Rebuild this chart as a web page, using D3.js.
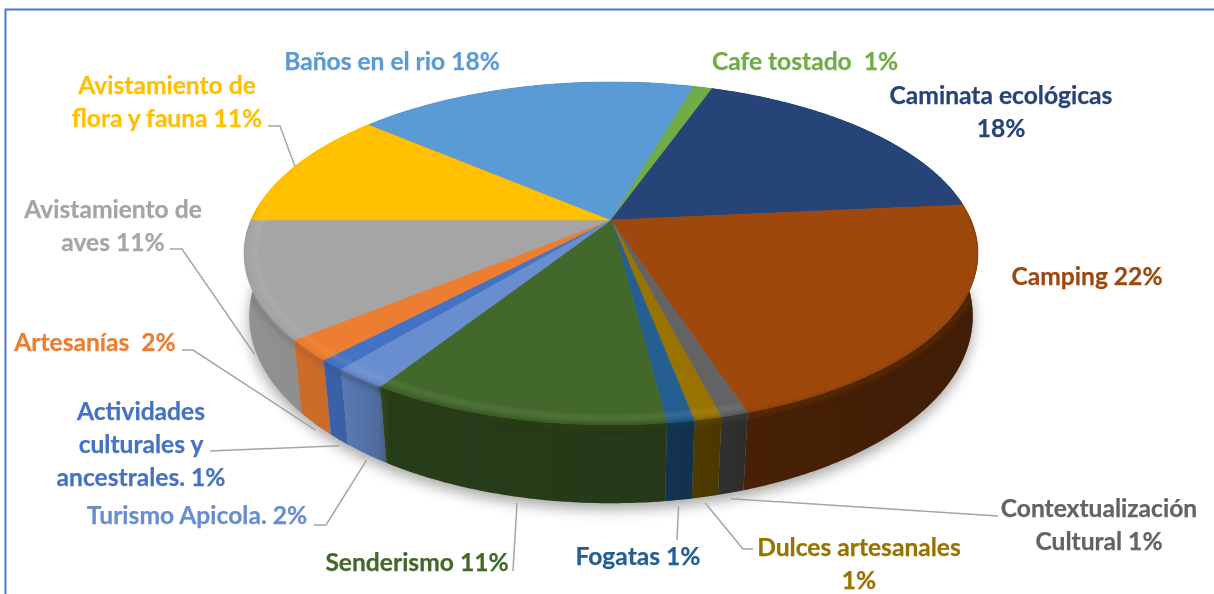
<!DOCTYPE html>
<html>
<head>
<meta charset="utf-8">
<style>
    body { margin: 0; background: #fff; }
    svg { display: block; }
    text { font-family: Lato, "Open Sans", sans-serif; font-weight: 700; font-size: 24.6px; text-anchor: middle; white-space: pre; stroke-width: 0.25px; }
</style>
</head>
<body>
<svg id="container" width="1214" height="594"></svg>
<script src="https://cdn.jsdelivr.net/npm/d3@7"></script>
<script>
// slices, clockwise, starting at Actividades
const categories = ["Actividades", "Artesanias", "Aves", "Flora", "Banos", "Cafe", "Caminata",
    "Camping", "Contextualizacion", "Dulces", "Fogatas", "Senderismo", "Turismo"]
const values = [1, 2, 11, 11.3, 18.1, 1, 18.1, 21.5, 1, 1, 1, 11, 2]
const labels = [
    ["Actividades", "culturales y", "ancestrales. 1%"],
    ["Artesanías  2%"],
    ["Avistamiento de", "aves 11%"],
    ["Avistamiento de", "flora y fauna 11%"],
    ["Baños en el rio 18%"],
    ["Cafe tostado  1%"],
    ["Caminata ecológicas", "18%"],
    ["Camping 22%"],
    ["Contextualización", "Cultural 1%"],
    ["Dulces artesanales", "1%"],
    ["Fogatas 1%"],
    ["Senderismo 11%"],
    ["Turismo Apicola. 2%"]
]
const colors = ["#4472C4", "#ED7D31", "#A5A5A5", "#FFC000", "#5B9BD5", "#70AD47", "#264478",
    "#9E480E", "#636363", "#997300", "#255E91", "#43682B", "#698ED0"]

// label placement: centre x, first baseline
const labelPos = [[141, 420], [95, 351], [113, 218], [167, 94], [392, 70], [805, 70], [1001, 104],
    [1087, 285], [1099, 517], [859, 556], [638, 565], [417, 571], [197, 524]]
// leader lines from the rim, through these points (null = no leader)
const leaders = [
    [[210, 451]], [[193, 350], [182, 350]], [[182, 249], [170, 249]], [[280, 126], [268, 126]],
    null, null, null, null,
    [[998, 516]], [[743, 549], [753, 549]], [[677, 540]], [[513, 571]], [[326, 525], [314, 525]]
]

let svg = d3.select("#container")
let defs = svg.append("defs")

// perspective view of the two faces of the disc
let k = 0.178
let topFace = { cx: 611, cy: 220, rx: 360, ry: 165, k: 0.195 }
let bottomFace = { cx: 611, cy: 283, rx: 356, ry: 181, k: 0.178 }

function project(face, a, r = 1) {
    let u = r * Math.sin(a)
    let v = -r * Math.cos(a)
    let w = 1 - face.k * v
    return [face.cx + face.rx * u / w, face.cy + face.ry * v / w]
}

function rim(face, a0, a1, r = 1) {
    let n = Math.max(2, Math.ceil(Math.abs(a1 - a0) / 0.01))
    return d3.range(n + 1).map(i => project(face, a0 + (a1 - a0) * i / n, r))
}

let line = d3.line()
let pie = d3.pie()
    .sort(null)
    .value(d => d)
    .startAngle(219.6 * Math.PI / 180)
    .endAngle((219.6 + 360) * Math.PI / 180)

let slices = pie(values).map((d, i) => ({ ...d, i }))

// filters and gradient
defs.append("filter").attr("id", "shadow")
    .attr("x", "-10%").attr("y", "-10%").attr("width", "120%").attr("height", "120%")
    .append("feGaussianBlur").attr("stdDeviation", 7)
defs.append("filter").attr("id", "soft")
    .attr("x", "-10%").attr("y", "-10%").attr("width", "120%").attr("height", "120%")
    .append("feGaussianBlur").attr("stdDeviation", 2)

let shadeStops = [[245, 0.12], [345, 0.15], [378, 0.24], [390, 0.42], [660, 0.45], [750, 0.55], [978, 0.6]]
let offset = d3.scaleLinear().domain([245, 978]).range([0, 1])
let sideShade = defs.append("linearGradient").attr("id", "sideShade")
    .attr("gradientUnits", "userSpaceOnUse")
    .attr("x1", 245).attr("x2", 978).attr("y1", 0).attr("y2", 0)
sideShade.selectAll("stop").data(shadeStops).enter().append("stop")
    .attr("offset", d => offset(d[0]))
    .attr("stop-color", "#000")
    .attr("stop-opacity", d => d[1])

function sidePath(d) {
    return line(rim(topFace, d.startAngle, d.endAngle)
        .concat(rim(bottomFace, d.endAngle, d.startAngle))) + "Z"
}

// everything the bevel may touch
let clip = defs.append("clipPath").attr("id", "disc")
clip.append("path").attr("d", line(rim(topFace, 0, 2 * Math.PI)) + "Z")
slices.forEach(d => clip.append("path").attr("d", sidePath(d)))

// frame
svg.append("path")
    .attr("d", line([[5.5, 594], [5.5, 9.5], [1214, 9.5]]))
    .attr("fill", "none")
    .attr("stroke", "#4a78cc")
    .attr("stroke-width", 2)

// soft shadow under the disc
svg.append("path")
    .attr("d", line(rim(bottomFace, 0, 2 * Math.PI)))
    .attr("transform", "translate(0,6)")
    .attr("fill", "#000")
    .attr("opacity", 0.35)
    .attr("filter", "url(#shadow)")

// side wall, back slices first
let order = slices.slice().sort((a, b) =>
    -Math.cos((a.startAngle + a.endAngle) / 2) - -Math.cos((b.startAngle + b.endAngle) / 2))
let side = svg.append("g").selectAll("g").data(order).enter().append("g")
side.append("path").attr("d", sidePath).attr("fill", d => colors[d.i])
side.append("path").attr("d", sidePath).attr("fill", "url(#sideShade)")

// top face
svg.append("g").selectAll("path").data(slices).enter().append("path")
    .attr("d", d => line([project(topFace, 0, 0)].concat(rim(topFace, d.startAngle, d.endAngle))) + "Z")
    .attr("fill", d => colors[d.i])
    .attr("stroke", d => colors[d.i])
    .attr("stroke-width", 0.5)

// bevel on the front of the rim: lit to the left, dark to the right
let frontFrom = 88 * Math.PI / 180
let frontTo = 275 * Math.PI / 180
function clampFront(d) {
    let a0 = d.startAngle, a1 = d.endAngle
    for (let turn of [0, 2 * Math.PI]) {
        let s = Math.max(a0, frontFrom + turn), e = Math.min(a1, frontTo + turn)
        if (e > s) return [s, e]
    }
    return null
}
let bevel = svg.append("g").attr("clip-path", "url(#disc)").append("g").attr("filter", "url(#soft)")
slices.forEach(d => {
    let range = clampFront(d)
    if (!range) return
    let dark = d3.color(colors[d.i]).darker(1.4)
    let light = d3.interpolateRgb(colors[d.i], "#fff")(0.2)
    bevel.append("path")
        .attr("d", line(rim(topFace, range[0], range[1], 1.01)))
        .attr("fill", "none").attr("stroke", dark).attr("stroke-width", 5).attr("opacity", d.i < 3 ? 0.35 : 0.75)
    bevel.append("path")
        .attr("d", line(rim(topFace, range[0], range[1], 0.97)))
        .attr("fill", "none").attr("stroke", d.i === 7 ? colors[7] : light).attr("stroke-width", 2.5)
        .attr("opacity", 0.8)
})

// leader lines start on the rim at the middle of the slice
slices.forEach(d => {
    if (!leaders[d.i]) return
    let mid = (d.startAngle + d.endAngle) / 2
    let front = -Math.cos(mid) > 0
    let start = project(front ? bottomFace : topFace, mid)
    if (front) start[1] += 6
    svg.append("path")
        .attr("d", line([start].concat(leaders[d.i])))
        .attr("fill", "none")
        .attr("stroke", "#A5A5A5")
        .attr("stroke-width", 1.5)
})

// labels
slices.forEach(d => {
    let t = svg.append("text").attr("fill", colors[d.i]).attr("stroke", colors[d.i])
    labels[d.i].forEach((s, j) => {
        t.append("tspan")
            .attr("x", labelPos[d.i][0])
            .attr("y", labelPos[d.i][1] + j * 33)
            .text(s)
    })
})
</script>
</body>
</html>
